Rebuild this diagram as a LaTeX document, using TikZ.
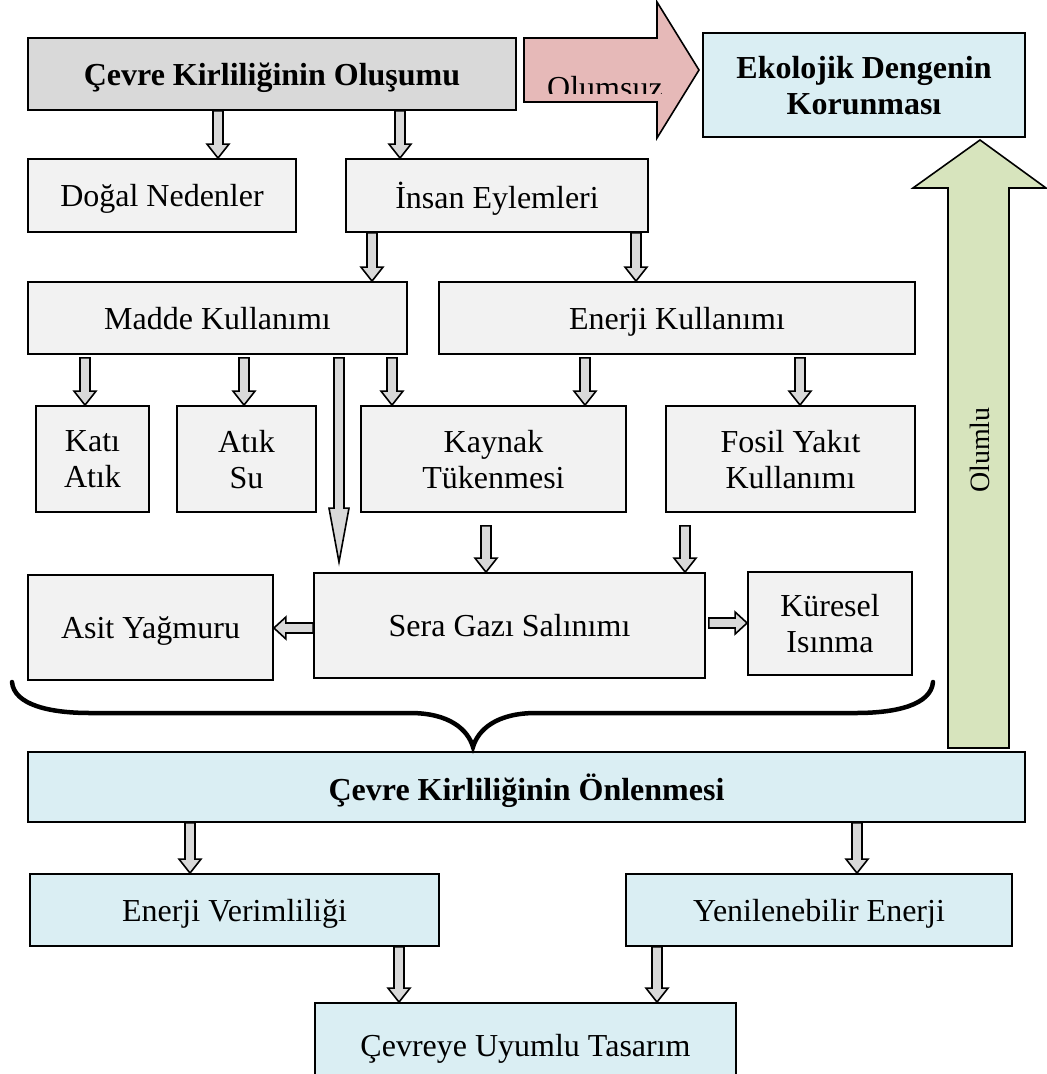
\documentclass[tikz,border=0pt]{standalone}
\usepackage{fontspec}
\setmainfont{Liberation Serif}
\usetikzlibrary{calc}
\definecolor{boxgrey}{HTML}{F2F2F2}
\definecolor{headgrey}{HTML}{D9D9D9}
\definecolor{boxblue}{HTML}{DAEEF3}
\definecolor{negpink}{HTML}{E6B9B8}
\definecolor{posgreen}{HTML}{D7E4BD}

\begin{document}
\begin{tikzpicture}[x=1pt, y=-1pt,
    box/.style={draw=black, line width=1.8pt, fill=boxgrey, align=center, inner sep=0pt,
                text depth=0pt, font=\fontsize{32}{36}\selectfont},
    bluebox/.style={box, fill=boxblue},
    bold/.style={font=\fontsize{32}{36}\selectfont\bfseries},
    blen/.store in=\blen, bwid/.store in=\bwid, blen=14, bwid=11,
    blockdown/.style={draw=black, fill=headgrey, line width=1.6pt,
      to path={($(\tikztostart)+(-5,0)$) -- ($(\tikztotarget)+(-5,-\blen)$)
        -- ($(\tikztotarget)+(-\bwid,-\blen)$) -- (\tikztotarget)
        -- ($(\tikztotarget)+(\bwid,-\blen)$) -- ($(\tikztotarget)+(5,-\blen)$)
        -- ($(\tikztostart)+(5,0)$) -- cycle}},
    blockright/.style={draw=black, fill=headgrey, line width=1.6pt,
      to path={($(\tikztostart)+(0,-5)$) -- ($(\tikztotarget)+(-12,-5)$)
        -- ($(\tikztotarget)+(-12,-11)$) -- (\tikztotarget)
        -- ($(\tikztotarget)+(-12,11)$) -- ($(\tikztotarget)+(-12,5)$)
        -- ($(\tikztostart)+(0,5)$) -- cycle}},
    blockleft/.style={draw=black, fill=headgrey, line width=1.6pt,
      to path={($(\tikztostart)+(0,-5)$) -- ($(\tikztotarget)+(12,-5)$)
        -- ($(\tikztotarget)+(12,-11)$) -- (\tikztotarget)
        -- ($(\tikztotarget)+(12,11)$) -- ($(\tikztotarget)+(12,5)$)
        -- ($(\tikztostart)+(0,5)$) -- cycle}},
    bigarrow/.style={draw=black, line width=1.6pt}
  ]
    \clip (0,0) rectangle (1047,1074);

    % upper part: causes
    \node[box, bold, fill=headgrey, minimum width=488, minimum height=72] (olusum) at (272,74) {Çevre Kirliliğinin Oluşumu};
    \node[bluebox, bold, minimum width=322, minimum height=104] (ekoloji) at (864,85) {Ekolojik Dengenin\\Korunması};
    \node[box, minimum width=268, minimum height=73] (dogal) at (162,195.5) {Doğal Nedenler};
    \node[box, minimum width=302, minimum height=73] (insan) at (497,195.5) {İnsan Eylemleri};
    \node[box, minimum width=379, minimum height=72] (madde) at (217.5,318) {Madde Kullanımı};
    \node[box, minimum width=476, minimum height=72] (enerji) at (677,318) {Enerji Kullanımı};
    \node[box, minimum width=113, minimum height=106] (kati) at (92.5,459) {Katı\\Atık};
    \node[box, minimum width=139, minimum height=106] (atiksu) at (246.5,459) {Atık\\Su};
    \node[box, minimum width=265, minimum height=106] (kaynak) at (493.5,459) {Kaynak\\Tükenmesi};
    \node[box, minimum width=249, minimum height=106] (fosil) at (790.5,459) {Fosil Yakıt\\Kullanımı};
    \node[box, minimum width=245, minimum height=105] (asit) at (150.5,627.5) {Asit Yağmuru};
    \node[box, minimum width=391, minimum height=105] (sera) at (509.5,625.5) {Sera Gazı Salınımı};
    \node[box, minimum width=164, minimum height=103] (kuresel) at (830,623.5) {Küresel\\Isınma};

    % lower part: prevention
    \node[bluebox, bold, minimum width=997, minimum height=70] (onleme) at (526.5,787) {Çevre Kirliliğinin Önlenmesi};
    \node[bluebox, minimum width=409, minimum height=72] (verim) at (234.5,910) {Enerji Verimliliği};
    \node[bluebox, minimum width=386, minimum height=72] (yenile) at (819,910) {Yenilenebilir Enerji};
    \node[bluebox, minimum width=421, minimum height=84] (tasarim) at (525.5,1045) {Çevreye Uyumlu Tasarım};

    % small block arrows
    \draw[blockdown] (olusum.south -| 218,0) to (dogal.north -| 218,0);
    \draw[blockdown] (olusum.south -| 400,0) to (insan.north -| 400,0);
    \draw[blockdown] (insan.south -| 372,0) to (madde.north -| 372,0);
    \draw[blockdown] (insan.south -| 636,0) to (enerji.north -| 636,0);
    \draw[blockdown] ($(madde.south -| 85,0)+(0,3)$) to (kati.north -| 85,0);
    \draw[blockdown] ($(madde.south -| 244,0)+(0,3)$) to (atiksu.north -| 244,0);
    \draw[blockdown] ($(madde.south -| 392,0)+(0,3)$) to (kaynak.north -| 392,0);
    \draw[blockdown] ($(enerji.south -| 585,0)+(0,3)$) to (kaynak.north -| 585,0);
    \draw[blockdown] ($(enerji.south -| 800,0)+(0,3)$) to (fosil.north -| 800,0);
    \draw[blockdown, blen=54, bwid=10] ($(madde.south -| 339,0)+(0,3)$) to ($(sera.north -| 339,0)+(0,-10)$);
    \draw[blockdown] ($(kaynak.south -| 486,0)+(0,13)$) to (sera.north -| 486,0);
    \draw[blockdown] ($(fosil.south -| 685,0)+(0,13)$) to (sera.north -| 685,0);
    \draw[blockleft] (sera.west |- 0,628) to (asit.east |- 0,628);
    \draw[blockright] ($(sera.east |- 0,623)+(3,0)$) to (kuresel.west |- 0,623);
    \draw[blockdown] (onleme.south -| 190,0) to (verim.north -| 190,0);
    \draw[blockdown] (onleme.south -| 857,0) to (yenile.north -| 857,0);
    \draw[blockdown] (verim.south -| 399,0) to (tasarim.north -| 399,0);
    \draw[blockdown] (yenile.south -| 657,0) to (tasarim.north -| 657,0);

    % brace
    \draw[line width=4.5pt, line cap=round] (12,682) .. controls (14,705) and (50,713) .. (90,713)
      -- (410,713) .. controls (450,713) and (468,730) .. (473,747)
      .. controls (478,730) and (496,713) .. (536,713) -- (856,713)
      .. controls (896,713) and (931,705) .. (933,682);

    % negative effect
    \draw[bigarrow, fill=negpink] (524,38) -- (657,38) -- (657,2) -- (699,70) -- (657,138)
      -- (657,102) -- (524,102) -- cycle;
    \begin{scope}
      \clip (524,60) rectangle (700,93);
      \node[anchor=base west, inner sep=0pt, font=\fontsize{32}{36}\selectfont] (olumsuz) at (547,98) {Olumsuz};
    \end{scope}

    % positive effect
    \draw[bigarrow, fill=posgreen] (948,748) -- (948,188) -- (913,188) -- (980,140) -- (1046,188)
      -- (1009,188) -- (1009,748) -- cycle;
    \node[rotate=90, inner sep=0pt, font=\fontsize{28}{32}\selectfont] (olumlu) at (980,450) {Olumlu};
\end{tikzpicture}
\end{document}
